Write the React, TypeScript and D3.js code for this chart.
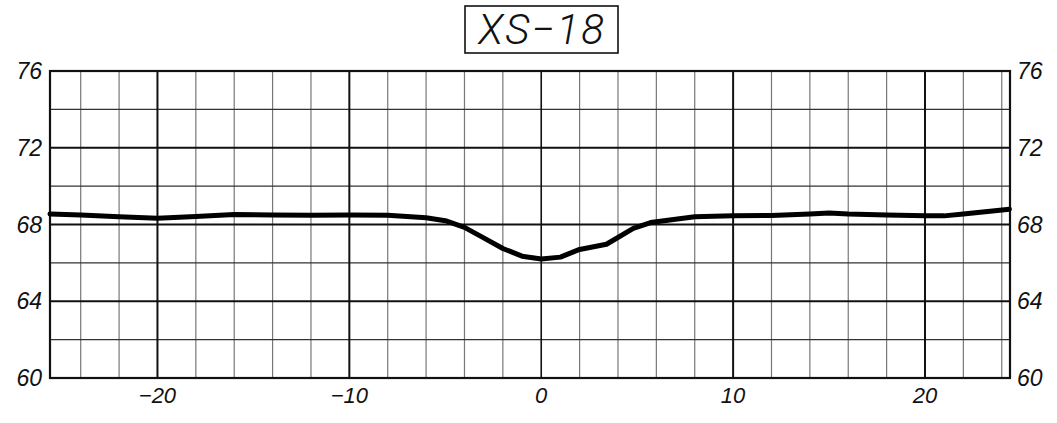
import React from "react";
import * as d3 from "d3";

const title = "XS\u221218";
const stations = [-25.6, -24, -22, -20, -18, -16, -14, -12, -10, -8, -6, -5, -4, -3, -2, -1, 0, 1, 2, 3.4, 4.8, 5.7, 8, 10, 12, 14, 15, 16, 18, 20, 21, 22, 24.4];
const elevations = [68.55, 68.5, 68.4, 68.33, 68.42, 68.52, 68.5, 68.48, 68.5, 68.48, 68.35, 68.2, 67.85, 67.3, 66.75, 66.35, 66.2, 66.3, 66.7, 66.97, 67.8, 68.1, 68.4, 68.45, 68.47, 68.55, 68.6, 68.55, 68.5, 68.45, 68.45, 68.55, 68.8];
const xTickLabels = [-20, -10, 0, 10, 20];
const yTickLabels = [60, 64, 68, 72, 76];
const xDomain = [-25.6, 24.43];
const yDomain = [60, 76];

export default function App() {
  const W = 1057, H = 423;
  const x = d3.scaleLinear().domain(xDomain).range([50, 1010]);
  const y = d3.scaleLinear().domain(yDomain).range([378, 71]);
  const minorX = d3.range(-24, 25, 2).filter((v) => v % 10 !== 0);
  const majorX = d3.range(-20, 21, 10);
  const hLines = d3.range(62, 76, 2);
  const pts: [number, number][] = stations.map((s, i) => [s, elevations[i]]);
  const line = d3.line<[number, number]>().x((d) => x(d[0])).y((d) => y(d[1]));
  const fmt = (v: number) => (v < 0 ? "\u2212" + Math.abs(v) : String(v));
  const font = "'Liberation Sans', Arial, sans-serif";
  return (
    <svg width={W} height={H} style={{ position: "absolute", left: 0, top: 0, background: "#fff" }}>
      <rect x={0} y={0} width={W} height={H} fill="#fff" />
      {minorX.map((v) => (
        <line key={"mx" + v} x1={x(v)} x2={x(v)} y1={y(76)} y2={y(60)} stroke="#777" strokeWidth={1.2} />
      ))}
      {hLines.map((v) => (
        <line key={"h" + v} x1={x(xDomain[0])} x2={x(xDomain[1])} y1={y(v)} y2={y(v)}
          stroke={v % 4 === 0 ? "#111" : "#333"} strokeWidth={v % 4 === 0 ? 2 : 1.4} />
      ))}
      {majorX.map((v) => (
        <line key={"Mx" + v} x1={x(v)} x2={x(v)} y1={y(76)} y2={y(60)} stroke="#111" strokeWidth={v === 0 ? 1.6 : 2} />
      ))}
      <rect x={x(xDomain[0])} y={y(76)} width={x(xDomain[1]) - x(xDomain[0])} height={y(60) - y(76)}
        fill="none" stroke="#111" strokeWidth={2.2} />
      <path d={line(pts) || ""} fill="none" stroke="#000" strokeWidth={5} strokeLinejoin="round" strokeLinecap="round" />
      {yTickLabels.map((v) => (
        <g key={"yl" + v}>
          <text x={42} y={y(v) + 8} textAnchor="end" fontFamily={font} fontStyle="italic" fontSize={23} fill="#111">{v}</text>
          <text x={1017} y={y(v) + 8} textAnchor="start" fontFamily={font} fontStyle="italic" fontSize={23} fill="#111">{v}</text>
        </g>
      ))}
      {xTickLabels.map((v) => (
        <text key={"xl" + v} x={x(v)} y={403} textAnchor="middle" fontFamily={font} fontStyle="italic" fontSize={22} fill="#111">{fmt(v)}</text>
      ))}
      <rect x={465} y={6} width={153} height={47} fill="none" stroke="#111" strokeWidth={1.6} />
      <text x={542} y={44} textAnchor="middle" fontFamily="Roboto, 'DejaVu Sans', sans-serif" fontWeight={300} fontStyle="italic" fontSize={42} letterSpacing={2} fill="#111">{title}</text>
    </svg>
  );
}
